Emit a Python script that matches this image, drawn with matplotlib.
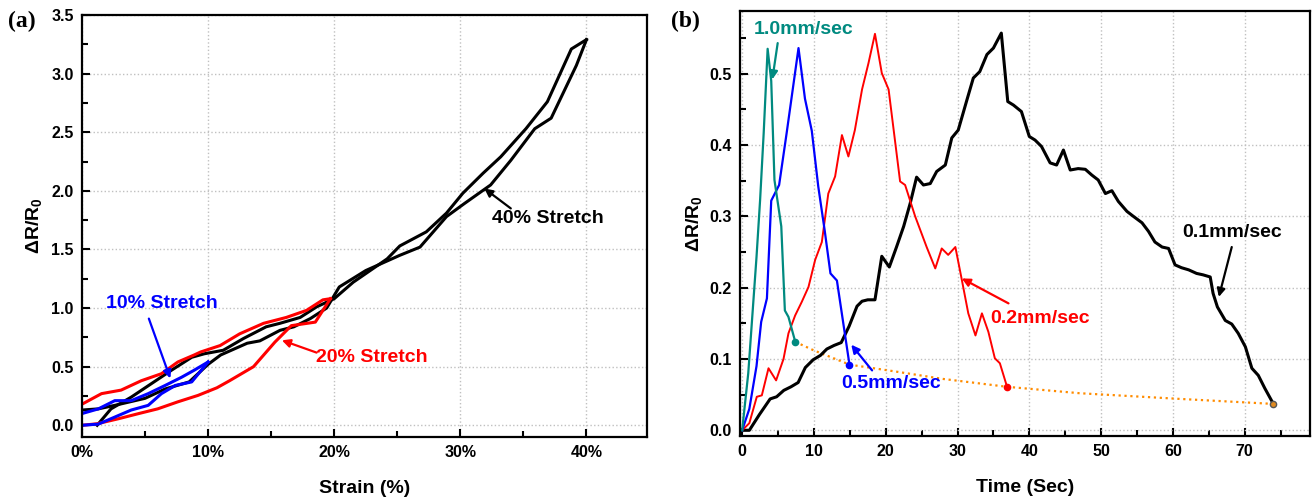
import matplotlib
matplotlib.use("Agg")
import matplotlib.pyplot as plt
from matplotlib.ticker import MultipleLocator, FuncFormatter

plt.rcParams['font.family'] = ['Liberation Sans', 'DejaVu Sans']
plt.rcParams['font.weight'] = 'bold'
plt.rcParams['mathtext.fontset'] = 'custom'
plt.rcParams['mathtext.rm'] = 'Liberation Sans:bold'
plt.rcParams['mathtext.it'] = 'Liberation Sans:bold'
plt.rcParams['mathtext.bf'] = 'Liberation Sans:bold'
plt.rcParams['mathtext.default'] = 'rm'

# ---------------- Panel (a) data: strain (%) vs dR/R0 ----------------
s40_load = [1.2, 2.3, 3.9, 5.5, 7.1, 8.7, 9.7, 11.2, 12.8, 14.6, 15.7, 17.3, 18.6, 20.0,
            21.5, 24.2, 25.2, 27.3, 28.9, 30.2, 31.8, 33.2, 35.2, 36.9, 38.8, 40.0]
r40_load = [0.0, 0.14, 0.24, 0.355, 0.47, 0.58, 0.61, 0.64, 0.74, 0.84, 0.87, 0.92, 1.01, 1.08,
            1.22, 1.42, 1.53, 1.65, 1.81, 1.98, 2.15, 2.29, 2.53, 2.76, 3.21, 3.29]
s40_unload = [40.0, 39.2, 37.2, 35.9, 34.0, 32.4, 30.3, 28.9, 26.8, 25.2, 22.5, 20.4, 19.4,
              18.1, 16.8, 15.7, 14.1, 13.1, 11.0, 10.0, 8.5, 6.6, 5.0, 2.6, 1.3, 0.0]
r40_unload = [3.29, 3.07, 2.62, 2.53, 2.26, 2.05, 1.89, 1.78, 1.52, 1.45, 1.32, 1.18, 1.0,
              0.91, 0.84, 0.81, 0.72, 0.70, 0.60, 0.52, 0.37, 0.31, 0.23, 0.17, 0.14, 0.13]

s20_load = [0, 1.2, 2.9, 4.5, 6.0, 7.6, 9.2, 10.7, 11.7, 13.6, 15.3, 16.6, 18.5, 19.7]
r20_load = [0, 0.013, 0.056, 0.10, 0.14, 0.20, 0.255, 0.32, 0.38, 0.50, 0.71, 0.85, 0.88, 1.08]
s20_unload = [19.7, 19.1, 17.8, 16.2, 14.4, 12.5, 10.95, 9.4, 8.9, 7.6, 6.3, 4.7, 3.1, 1.55, 0]
r20_unload = [1.08, 1.07, 0.98, 0.92, 0.87, 0.78, 0.68, 0.625, 0.60, 0.54, 0.44, 0.38, 0.30, 0.27, 0.18]

s10_load = [0, 1.3, 2.6, 3.9, 5.25, 6.3, 7.4, 8.7, 10.0]
r10_load = [0, 0.01, 0.07, 0.13, 0.17, 0.27, 0.34, 0.37, 0.54]
s10_unload = [10.0, 8.9, 7.9, 6.6, 5.25, 3.9, 2.6, 1.3, 0]
r10_unload = [0.54, 0.47, 0.41, 0.34, 0.27, 0.21, 0.21, 0.14, 0.10]

# ---------------- Panel (b) data: time (s) vs dR/R0 ----------------
t_10 = [0, 0.85, 2.0, 2.5, 3.0, 3.55, 4.05, 4.5, 5.45, 5.95, 6.45, 7.4]
v_10 = [0, 0.08, 0.243, 0.323, 0.417, 0.535, 0.49, 0.351, 0.286, 0.168, 0.159, 0.124]

t_05 = [0, 1.0, 2.0, 2.65, 3.45, 4.05, 5.15, 6.2, 7.85, 8.75, 9.7, 10.6, 11.5, 12.3, 13.2, 14.95]
v_05 = [0, 0.03, 0.09, 0.152, 0.185, 0.322, 0.344, 0.417, 0.536, 0.465, 0.42, 0.342, 0.28,
        0.22, 0.21, 0.092]

t_02 = [0, 1.0, 2.04, 2.74, 3.67, 4.73, 5.76, 6.45, 7.38, 8.3, 9.24, 10.17, 11.1, 12.0, 12.95,
        13.9, 14.8, 15.7, 16.7, 17.6, 18.5, 19.45, 20.4, 22.0, 22.7, 24.1, 25.7, 26.9, 27.8,
        28.7, 29.7, 30.6, 31.5, 32.5, 33.4, 34.3, 35.2, 35.9, 36.9]
v_02 = [0, 0.01, 0.047, 0.049, 0.087, 0.07, 0.10, 0.136, 0.161, 0.18, 0.201, 0.239, 0.264,
        0.332, 0.356, 0.414, 0.384, 0.421, 0.478, 0.515, 0.556, 0.501, 0.478, 0.349, 0.344,
        0.30, 0.257, 0.227, 0.255, 0.246, 0.257, 0.211, 0.164, 0.133, 0.164, 0.138, 0.101,
        0.094, 0.061]

t_01 = [0, 1.0, 2.4, 3.9, 4.8, 5.8, 6.8, 7.8, 8.8, 9.9, 10.9, 11.8, 12.8, 13.8, 14.9, 16.0,
        16.7, 17.5, 18.5, 19.45, 20.5, 21.5, 22.5, 23.4, 24.3, 25.25, 26.2, 27.1, 28.3, 29.2,
        30.1, 31.3, 32.2, 33.1, 34.1, 35.0, 36.1, 37.0, 37.8, 38.9, 40.0, 40.8, 41.7, 42.9,
        43.8, 44.75, 45.7, 46.8, 47.8, 48.7, 49.6, 50.6, 51.5, 52.4, 53.6, 54.5, 55.7, 56.6,
        57.5, 58.5, 59.4, 60.3, 61.2, 62.2, 63.3, 64.2, 65.2, 65.6, 66.2, 67.3, 68.2, 69.1,
        70.1, 71.0, 71.9, 72.8, 74.0]
v_01 = [0, 0, 0.022, 0.044, 0.047, 0.056, 0.061, 0.067, 0.088, 0.099, 0.105, 0.114, 0.119,
        0.123, 0.146, 0.174, 0.181, 0.183, 0.183, 0.244, 0.229, 0.257, 0.286, 0.318, 0.355,
        0.344, 0.346, 0.363, 0.372, 0.41, 0.421, 0.463, 0.494, 0.503, 0.527, 0.536, 0.557,
        0.461, 0.456, 0.447, 0.412, 0.407, 0.398, 0.375, 0.372, 0.393, 0.365, 0.367, 0.366,
        0.358, 0.351, 0.332, 0.336, 0.321, 0.307, 0.30, 0.291, 0.279, 0.264, 0.257, 0.255,
        0.232, 0.228, 0.225, 0.22, 0.218, 0.215, 0.192, 0.173, 0.154, 0.149, 0.136, 0.117,
        0.087, 0.077, 0.059, 0.037]

t_end = [7.4, 10, 15, 21, 28, 36.9, 47, 61, 74.0]
v_end = [0.124, 0.112, 0.092, 0.083, 0.072, 0.061, 0.052, 0.044, 0.037]

TEAL = '#008a80'
RED = '#ff0000'
BLUE = '#0000ff'
ORANGE = '#ff8c00'

fig = plt.figure(figsize=(13.12, 4.99), dpi=100)
axA = fig.add_axes([82/1312, 1-437/499, (647-82)/1312, (437-15)/499])
axB = fig.add_axes([740/1312, 1-436/499, (1310-740)/1312, (436-11)/499])


def style(ax):
    for sp in ax.spines.values():
        sp.set_linewidth(1.6)
    ax.tick_params(which='both', direction='in', top=False, right=False, width=1.5,
                   labelsize=11.5, pad=6)
    ax.tick_params(which='major', length=6)
    ax.tick_params(which='minor', length=4)
    ax.grid(True, which='major', linestyle=':', color='#c0c0c0', linewidth=1.0)
    ax.set_axisbelow(True)
    for lab in ax.get_xticklabels() + ax.get_yticklabels():
        lab.set_fontweight('bold')


# ---------------- Panel (a) ----------------
lw_a = 2.2
axA.plot(s40_load, r40_load, color='black', lw=lw_a)
axA.plot(s40_unload, r40_unload, color='black', lw=lw_a)
axA.plot(s20_load, r20_load, color=RED, lw=lw_a)
axA.plot(s20_unload, r20_unload, color=RED, lw=lw_a)
axA.plot(s10_load, r10_load, color=BLUE, lw=lw_a)
axA.plot(s10_unload, r10_unload, color=BLUE, lw=lw_a)

axA.set_xlim(0, 44.8)
axA.set_ylim(-0.1, 3.5)
axA.xaxis.set_major_locator(MultipleLocator(10))
axA.xaxis.set_minor_locator(MultipleLocator(5))
axA.yaxis.set_major_locator(MultipleLocator(0.5))
axA.yaxis.set_minor_locator(MultipleLocator(0.25))
axA.xaxis.set_major_formatter(FuncFormatter(lambda v, p: f"{v:.0f}%"))
axA.yaxis.set_major_formatter(FuncFormatter(lambda v, p: f"{v:.1f}"))
style(axA)
axA.set_xlabel('Strain (%)', fontsize=14, fontweight='bold', labelpad=14)
axA.set_ylabel(r'ΔR/R$_0$', fontsize=14, fontweight='bold', labelpad=5)

ap = dict(arrowstyle='-|>', lw=1.6, mutation_scale=12, shrinkA=0, shrinkB=0)
axA.annotate('', xy=(7.0, 0.40), xytext=(5.3, 0.91), arrowprops=dict(ap, color=BLUE))
axA.text(6.3, 1.04, '10% Stretch', color=BLUE, fontsize=14, fontweight='bold',
         ha='center', va='center')
axA.annotate('', xy=(15.85, 0.725), xytext=(18.6, 0.62), arrowprops=dict(ap, color=RED))
axA.text(23.0, 0.575, '20% Stretch', color=RED, fontsize=14, fontweight='bold',
         ha='center', va='center')
axA.annotate('', xy=(31.9, 2.02), xytext=(34.0, 1.85), arrowprops=dict(ap, color='black'))
axA.text(36.94, 1.76, '40% Stretch', color='black', fontsize=14, fontweight='bold',
         ha='center', va='center')

# ---------------- Panel (b) ----------------
axB.plot(t_end, v_end, color=ORANGE, lw=1.6, ls=':')
axB.plot(t_01, v_01, color='black', lw=2.2, marker='o', markevery=[len(t_01)-1],
         markersize=4.5, markerfacecolor='#e08a20', markeredgecolor='#555555')
axB.plot(t_02, v_02, color=RED, lw=1.4, marker='o', markevery=[len(t_02)-1], markersize=4.5)
axB.plot(t_05, v_05, color=BLUE, lw=1.6, marker='o', markevery=[len(t_05)-1], markersize=4.5)
axB.plot(t_10, v_10, color=TEAL, lw=1.6, marker='o', markevery=[len(t_10)-1], markersize=4.5)

axB.set_xlim(-0.3, 79.1)
axB.set_ylim(-0.008, 0.588)
axB.xaxis.set_major_locator(MultipleLocator(10))
axB.xaxis.set_minor_locator(MultipleLocator(5))
axB.yaxis.set_major_locator(MultipleLocator(0.1))
axB.yaxis.set_minor_locator(MultipleLocator(0.05))
axB.xaxis.set_major_formatter(FuncFormatter(lambda v, p: f"{v:.0f}"))
axB.yaxis.set_major_formatter(FuncFormatter(lambda v, p: f"{v:.1f}"))
style(axB)
axB.set_xlabel('Time (Sec)', fontsize=14, fontweight='bold', labelpad=14)
axB.set_ylabel(r'ΔR/R$_0$', fontsize=14, fontweight='bold', labelpad=4)

axB.annotate('', xy=(4.2, 0.492), xytext=(4.95, 0.543), arrowprops=dict(ap, color=TEAL))
axB.text(8.6, 0.5627, '1.0mm/sec', color=TEAL, fontsize=14, fontweight='bold',
         ha='center', va='center')
axB.annotate('', xy=(15.2, 0.12), xytext=(18.1, 0.084), arrowprops=dict(ap, color=BLUE))
axB.text(20.75, 0.0656, '0.5mm/sec', color=BLUE, fontsize=14, fontweight='bold',
         ha='center', va='center')
axB.annotate('', xy=(30.6, 0.213), xytext=(37.1, 0.178), arrowprops=dict(ap, color=RED))
axB.text(41.5, 0.157, '0.2mm/sec', color=RED, fontsize=14, fontweight='bold',
         ha='center', va='center')
axB.annotate('', xy=(66.4, 0.187), xytext=(68.2, 0.257), arrowprops=dict(ap, color='black'))
axB.text(68.3, 0.278, '0.1mm/sec', color='black', fontsize=14, fontweight='bold',
         ha='center', va='center')

fig.text(8/1312, 1-21/499, '(a)', family=['Liberation Serif', 'DejaVu Serif'],
         fontsize=17, fontweight='bold', va='center', ha='left')
fig.text(671/1312, 1-21/499, '(b)', family=['Liberation Serif', 'DejaVu Serif'],
         fontsize=17, fontweight='bold', va='center', ha='left')

fig.savefig('out.png', dpi=100)
